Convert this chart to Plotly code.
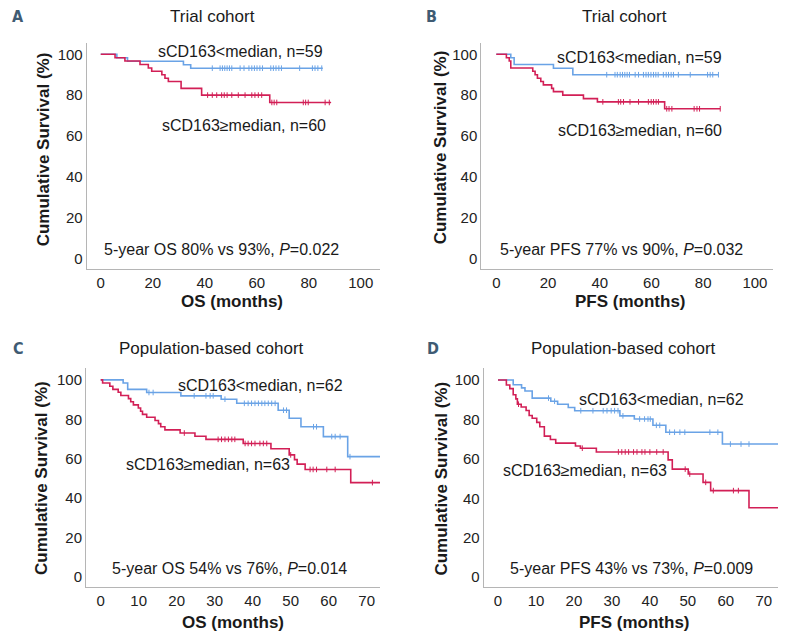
import numpy as np
import plotly.graph_objects as go

BLUE = "#6aa3e6"
RED = "#d21f56"
LABEL = "#3f5b73"
AXIS = "#b5b5b5"
FONT = "Liberation Sans, Arial, sans-serif"

# ---- Panel A: trial cohort, OS ----
a_blue_t = [0, 6.2, 10.3, 31.8, 34.6, 85.4]
a_blue_s = [100, 98.3, 96.6, 94.9, 93.2, 93.2]
a_blue_cens = [42.9, 45.9, 46.8, 47.7, 48.6, 49.5, 50.4, 53.6, 55.1, 57.0, 58.1, 59.1, 60.1,
               61.2, 62.2, 65.4, 66.4, 67.4, 68.5, 69.5, 76.5, 81.4, 82.4, 83.5, 85.0]
a_red_t = [0, 5.5, 9.3, 15.1, 18.3, 19.6, 23.5, 24.7, 26.0, 30.9, 38.8, 65.0, 88.6]
a_red_s = [100, 98.3, 96.7, 95.0, 93.3, 91.7, 90.0, 88.3, 86.7, 83.3, 80.0, 76.4, 76.4]
a_red_cens = [41.1, 42.9, 44.6, 46.5, 47.5, 48.6, 50.4, 52.9, 55.5, 58.1, 59.3, 60.6, 61.9,
              65.8, 66.7, 67.7, 77.9, 78.8, 79.8, 86.3, 87.9]

# ---- Panel B: trial cohort, PFS ----
b_blue_t = [0, 5.6, 6.9, 22.1, 29.6, 85.9]
b_blue_s = [100, 98.3, 95.0, 93.2, 90.0, 90.0]
b_blue_cens = [42.7, 45.9, 46.8, 47.9, 48.8, 49.7, 50.6, 51.5, 53.7, 55.0, 56.9, 57.9, 58.8,
               59.8, 60.8, 61.7, 62.6, 64.6, 65.7, 66.6, 67.6, 68.5, 70.4, 75.0, 81.7, 82.7,
               83.7, 85.9]
b_red_t = [0, 3.9, 5.0, 5.6, 14.1, 15.0, 15.9, 17.2, 18.2, 21.4, 22.1, 25.7, 33.7, 39.1, 65.1, 86.6]
b_red_s = [100, 98.3, 96.7, 93.3, 91.7, 90.0, 88.3, 86.7, 85.0, 83.3, 81.7, 80.0, 78.3, 76.7,
           73.3, 73.3]
b_red_cens = [41.2, 47.2, 48.1, 49.2, 51.7, 55.0, 58.8, 59.9, 60.8, 61.8, 62.7, 65.9, 66.8,
              67.9, 76.5, 77.6, 78.6, 86.6]

# ---- Panel C: population-based cohort, OS ----
c_blue_t = [0, 5.9, 7.1, 12.1, 21.1, 31.7, 35.8, 46.7, 49.6, 52.7, 58.6, 65.0, 73.5]
c_blue_s = [100, 98.4, 95.2, 93.6, 91.9, 90.2, 88.1, 84.6, 80.5, 76.2, 71.2, 61.0, 61.0]
c_blue_cens = [12.7, 13.8, 24.6, 27.7, 28.8, 29.6, 32.7, 37.8, 38.8, 39.7, 40.6, 41.5, 42.4,
               43.2, 44.1, 45.0, 45.9, 48.1, 48.9, 56.0, 56.8, 60.8, 61.7, 63.0, 65.6]
c_red_t = [0, 0.5, 2.4, 3.2, 4.6, 5.3, 7.3, 7.9, 8.6, 9.9, 10.5, 11.0, 12.1, 14.3, 15.2, 15.8,
           16.9, 20.9, 24.8, 27.7, 37.5, 44.8, 49.6, 51.0, 51.7, 53.8, 65.8, 73.5]
c_red_s = [100, 98.4, 96.8, 95.2, 93.7, 92.1, 90.5, 88.9, 87.3, 85.7, 84.1, 82.5, 81.0, 79.4,
           77.8, 76.2, 74.6, 73.0, 71.4, 69.8, 67.7, 65.0, 61.9, 59.5, 57.2, 54.5, 47.8, 47.8]
c_red_cens = [22.0, 30.9, 31.8, 32.7, 33.6, 34.5, 35.3, 38.0, 38.8, 39.7, 40.6, 41.9, 42.8,
              43.7, 50.0, 55.1, 55.9, 56.8, 59.5, 61.7, 71.5]

# ---- Panel D: population-based cohort, PFS ----
d_blue_t = [0, 4.0, 6.2, 7.1, 9.0, 13.9, 15.7, 18.5, 20.2, 32.1, 35.9, 40.8, 44.2, 59.1, 74.0]
d_blue_s = [100, 97.6, 96.0, 94.4, 90.8, 89.2, 87.7, 86.0, 84.4, 81.8, 80.2, 77.0, 73.5, 67.5, 67.5]
d_blue_cens = [13.3, 14.9, 21.8, 25.0, 27.7, 28.7, 29.8, 30.7, 31.6, 32.9, 37.3, 38.6, 39.5,
               40.1, 41.7, 42.6, 45.2, 46.5, 47.9, 49.2, 55.8, 57.9, 61.2, 64.0, 66.1]
d_red_t = [0, 2.2, 3.1, 4.0, 4.7, 5.1, 6.1, 7.4, 8.2, 9.0, 10.2, 11.0, 12.2, 13.8, 15.2, 20.4,
           21.7, 25.9, 44.8, 45.9, 50.1, 54.0, 56.0, 66.1, 74.0]
d_red_s = [100, 97.4, 95.6, 92.5, 90.4, 87.7, 86.3, 84.5, 82.0, 80.6, 78.5, 76.3, 71.5, 69.8,
           68.0, 66.5, 65.4, 63.5, 59.5, 54.8, 52.3, 48.1, 43.9, 35.2, 35.2]
d_red_cens = [5.4, 22.2, 31.7, 32.6, 33.5, 34.4, 35.7, 36.6, 37.9, 38.7, 40.0, 41.8, 43.5,
              49.3, 50.5, 54.7, 56.7, 62.0, 63.3]

# pixel boxes below are in the 786x641 page; the page body adds an 8px margin
panels = [
    dict(key="", label="A", title="Trial cohort", xtitle="OS (months)",
         blue=(a_blue_t, a_blue_s, a_blue_cens), red=(a_red_t, a_red_s, a_red_cens),
         n_lo="sCD163<median, n=59", n_hi="sCD163≥median, n=60",
         stat="5-year OS 80% vs 93%, <i>P</i>=0.022",
         lo_xy=(53.8, 101.3), hi_xy=(55.1, 65.3), stat_xy=(46.5, 4.1),
         xrange=[-5.4, 107.4], yrange=[-5.25, 105.4], xticks=list(range(0, 101, 20)),
         box=(86.7, 380, 43.3, 269),
         lab_xy=(18, 16), title_xy=(213, 17), ytitle_xy=(43.3, 149), xtitle_xy=(232, 302)),
    dict(key="2", label="B", title="Trial cohort", xtitle="PFS (months)",
         blue=(b_blue_t, b_blue_s, b_blue_cens), red=(b_red_t, b_red_s, b_red_cens),
         n_lo="sCD163<median, n=59", n_hi="sCD163≥median, n=60",
         stat="5-year PFS 77% vs 90%, <i>P</i>=0.032",
         lo_xy=(55.5, 98.5), hi_xy=(55.7, 62.5), stat_xy=(48.4, 4.4),
         xrange=[-5.8, 107.0], yrange=[-5.25, 105.4], xticks=list(range(0, 101, 20)),
         box=(481.3, 773, 43.3, 269),
         lab_xy=(432, 16), title_xy=(624.7, 17), ytitle_xy=(441.3, 147), xtitle_xy=(630, 302)),
    dict(key="3", label="C", title="Population-based cohort", xtitle="OS (months)",
         blue=(c_blue_t, c_blue_s, c_blue_cens), red=(c_red_t, c_red_s, c_red_cens),
         n_lo="sCD163<median, n=62", n_hi="sCD163≥median, n=63",
         stat="5-year OS 54% vs 76%, <i>P</i>=0.014",
         lo_xy=(42.1, 97.0), hi_xy=(28.3, 56.8), stat_xy=(33.8, 4.3),
         xrange=[-3.87, 73.5], yrange=[-5.4, 105.9], xticks=list(range(0, 71, 10)),
         box=(86, 380, 368.3, 587.3),
         lab_xy=(18, 348), title_xy=(211.7, 348.3), ytitle_xy=(41.7, 478.3), xtitle_xy=(233, 622)),
    dict(key="4", label="D", title="Population-based cohort", xtitle="PFS (months)",
         blue=(d_blue_t, d_blue_s, d_blue_cens), red=(d_red_t, d_red_s, d_red_cens),
         n_lo="sCD163<median, n=62", n_hi="sCD163≥median, n=63",
         stat="5-year PFS 43% vs 73%, <i>P</i>=0.009",
         lo_xy=(43.0, 89.9), hi_xy=(22.8, 54.0), stat_xy=(35.1, 4.6),
         xrange=[-3.77, 73.74], yrange=[-5.1, 105.9], xticks=list(range(0, 71, 10)),
         box=(483.7, 778, 368.3, 587.3),
         lab_xy=(433, 348), title_xy=(623, 348.3), ytitle_xy=(441.3, 478.3), xtitle_xy=(634.8, 622)),
]

PAD = 8
W, H = 786 - 2 * PAD, 641 - 2 * PAD


def level_at(t, s, x):
    idx = np.searchsorted(np.asarray(t), np.asarray(x), side="right") - 1
    return np.asarray(s)[idx]


def paper(xy):
    return (xy[0] - PAD) / W, 1 - (xy[1] - PAD) / H


def clamp(v):
    return min(max(v, 0.0), 1.0)


fig = go.Figure()
annotations = []
layout = {}

for p in panels:
    k = p["key"]
    for (t, s, cens), col in ((p["blue"], BLUE), (p["red"], RED)):
        fig.add_trace(go.Scatter(x=t, y=s, mode="lines", line=dict(color=col, width=1.6, shape="hv"),
                                 xaxis="x" + k, yaxis="y" + k, showlegend=False, hoverinfo="skip"))
        fig.add_trace(go.Scatter(x=cens, y=level_at(t, s, cens), mode="markers",
                                 marker=dict(symbol="line-ns", size=4, line=dict(color=col, width=1)),
                                 xaxis="x" + k, yaxis="y" + k, showlegend=False, hoverinfo="skip"))

    x0, x1, y0, y1 = p["box"]
    dx0, dy1 = paper((x0, y0))
    dx1, dy0 = paper((x1, y1))
    ax = dict(showline=True, linecolor=AXIS, linewidth=1, showgrid=False, zeroline=False,
              ticks="", tickfont=dict(size=15, color="#222", family=FONT), fixedrange=True)
    layout["xaxis" + k] = dict(ax, domain=[clamp(dx0), clamp(dx1)], range=p["xrange"],
                               tickvals=p["xticks"], anchor="y" + k)
    layout["yaxis" + k] = dict(ax, domain=[clamp(dy0), clamp(dy1)], range=p["yrange"],
                               tickvals=list(range(0, 101, 20)), anchor="x" + k)

    for txt, (x, y) in ((p["n_lo"], p["lo_xy"]), (p["n_hi"], p["hi_xy"]), (p["stat"], p["stat_xy"])):
        annotations.append(dict(text=txt, x=x, y=y, xref="x" + k, yref="y" + k, showarrow=False,
                                xanchor="center", yanchor="middle",
                                font=dict(size=16, color="#1a1a1a", family=FONT)))

    pa = dict(xref="paper", yref="paper", showarrow=False, xanchor="center", yanchor="middle")
    lx, ly = paper(p["lab_xy"])
    annotations.append(dict(pa, text="<b>" + p["label"] + "</b>", x=lx, y=ly,
                            font=dict(size=16, color=LABEL,
                                      family="Liberation Sans Narrow, DejaVu Sans Condensed, sans-serif")))
    tx, ty = paper(p["title_xy"])
    annotations.append(dict(pa, text=p["title"], x=tx, y=ty,
                            font=dict(size=17, color="#1a1a1a", family=FONT)))
    yx, yy = paper(p["ytitle_xy"])
    annotations.append(dict(pa, text="<b>Cumulative Survival (%)</b>", x=yx, y=yy, textangle=-90,
                            font=dict(size=17, color="#1a1a1a", family=FONT)))
    xx, xy_ = paper(p["xtitle_xy"])
    annotations.append(dict(pa, text="<b>" + p["xtitle"] + "</b>", x=xx, y=xy_,
                            font=dict(size=17, color="#1a1a1a", family=FONT)))

fig.update_layout(**layout)
fig.update_layout(width=W, height=H, margin=dict(l=0, r=0, t=0, b=0),
                  paper_bgcolor="white", plot_bgcolor="white", annotations=annotations,
                  font=dict(family=FONT))

fig.write_html("out.html", config={"displayModeBar": False})
